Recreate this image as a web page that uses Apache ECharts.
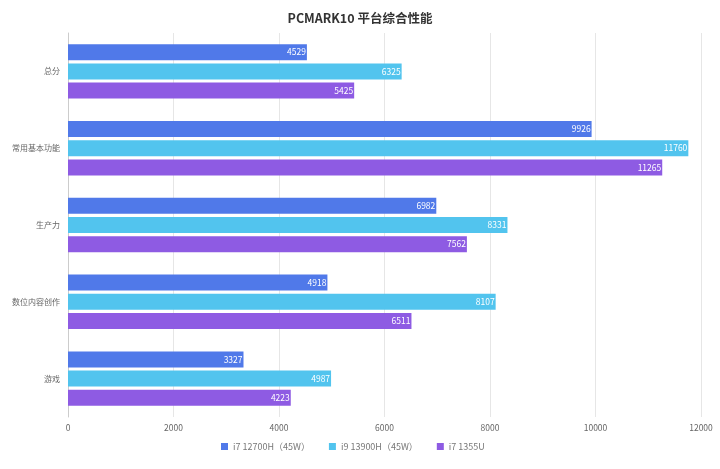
<!DOCTYPE html>
<html><head><meta charset="utf-8">
<script src="https://cdn.jsdelivr.net/npm/echarts@6/dist/echarts.min.js"></script>
<style>html,body{margin:0;padding:0;background:#fff}#c{width:720px;height:469px}</style>
</head><body><div id="c"></div>
<script>
const categories = ['总分','常用基本功能','生产力','数位内容创作','游戏'];
const seriesNames = ['i7 12700H（45W）','i9 13900H（45W）','i7 1355U'];
const s1 = [4529, 9926, 6982, 4918, 3327];
const s2 = [6325, 11760, 8331, 8107, 4987];
const s3 = [5425, 11265, 7562, 6511, 4223];
const colors = ['#5079e9','#52c4ee','#8e5be3'];
const font = '"Noto Sans CJK SC","Noto Sans",sans-serif';
const chart = echarts.init(document.getElementById('c'));
const mk = (name, data, i) => ({
  name, type:'bar', data, barWidth:16, barGap:'20%',
  itemStyle:{color:colors[i]},
  label:{show:true, position:'insideRight', color:'#fff', fontSize:8.5, fontFamily:font, distance:1}
});
chart.setOption({
  animation:false,
  textStyle:{fontFamily:font},
  title:{text:'PCMARK10 平台综合性能', left:'center', top:7, textStyle:{fontSize:12.5, fontWeight:'bold', color:'#333', fontFamily:font}},
  grid:{left:68, right:19, top:33, bottom:52, containLabel:false, outerBoundsMode:'none'},
  legend:{bottom:13, left:216, itemWidth:7, itemHeight:7, itemGap:19, icon:'rect', textStyle:{fontSize:9, color:'#777', fontFamily:font}},
  xAxis:{type:'value', min:0, max:12000, interval:2000, axisLine:{show:false}, axisTick:{show:false},
    splitLine:{lineStyle:{color:'#e6e6e6'}}, axisLabel:{fontSize:8.5, color:'#666', margin:7, formatter: v => String(v)}},
  yAxis:{type:'category', data:categories, inverse:true, axisTick:{show:false},
    axisLine:{lineStyle:{color:'#ccc'}}, axisLabel:{fontSize:8, color:'#666', margin:8}},
  series:[mk(seriesNames[0], s1, 0), mk(seriesNames[1], s2, 1), mk(seriesNames[2], s3, 2)]
});
</script></body></html>
